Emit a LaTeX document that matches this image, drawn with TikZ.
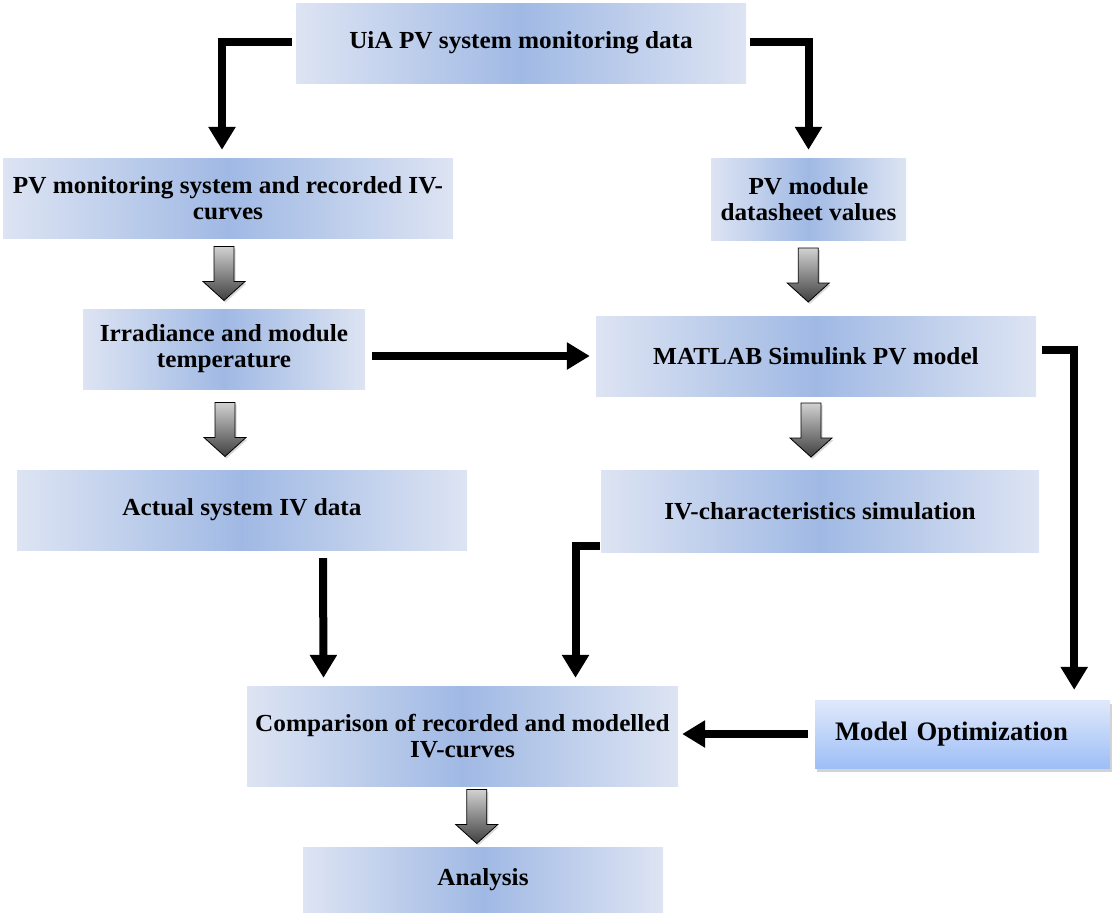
\documentclass[tikz,border=0pt]{standalone}
\usepackage{fontspec}
\setmainfont{Liberation Serif}[FakeStretch=1.03]
\newfontfamily\optfont{Liberation Serif}
\usetikzlibrary{arrows.meta,shadows,calc}
\definecolor{boxedge}{RGB}{221,228,243}
\definecolor{boxmid}{RGB}{160,185,228}
\definecolor{opttop}{RGB}{224,233,251}
\definecolor{optbot}{RGB}{158,190,246}
\tikzset{
  box/.style={rectangle, inner sep=0pt, left color=boxedge, right color=boxedge,
    middle color=boxmid, font=\fontsize{24.5}{26}\selectfont\bfseries, align=center, text=black},
  optbox/.style={rectangle, inner xsep=20pt, inner ysep=0pt, top color=opttop, bottom color=optbot,
    drop shadow={shadow xshift=2pt, shadow yshift=-4pt, opacity=0.35},
    font=\optfont\fontsize{26.7}{30}\selectfont\bfseries, align=left, text width=255pt, minimum height=68pt},
  flow/.style={line width=8pt, -{Triangle[length=23pt,width=26pt]}},
  blockarrow/.pic={
    \path[draw=black, line width=0.8pt, top color=black!18, bottom color=black!75,
      drop shadow={shadow xshift=1.5pt, shadow yshift=-2pt, opacity=0.3}]
      (-10,-27) -- (10,-27) -- (10,8) -- (21,8) -- (0,27) -- (-21,8) -- (-10,8) -- cycle;
  }
}
\begin{document}
\begin{tikzpicture}[x=1pt,y=-1pt]
\path[use as bounding box] (0,0) rectangle (1112,914);

\node[box, minimum width=450pt, minimum height=80pt] (top) at (521,43) {UiA PV system monitoring data};
\node[box, minimum width=450pt, minimum height=80pt] (pvmon) at (228,198) {PV monitoring system and recorded IV-\\curves};
\node[box, minimum width=195pt, minimum height=82pt] (data) at (808.5,199) {PV module\\datasheet values};
\node[box, minimum width=282pt, minimum height=80pt] (irr) at (224,349) {Irradiance and module\\temperature};
\node[box, minimum width=440pt, minimum height=80pt] (matlab) at (816,356) {MATLAB Simulink PV model};
\node[box, minimum width=450pt, minimum height=80pt] (actual) at (242,510) {Actual system IV data};
\node[box, minimum width=438pt, minimum height=82pt] (ivsim) at (820,511) {IV-characteristics simulation};
\node[box, minimum width=431pt, minimum height=100pt] (comp) at (462.5,736) {Comparison of recorded and modelled\\IV-curves};
\node[optbox] (opt) at (962.5,734) {Model Optimization};
\node[box, minimum width=360pt, minimum height=65pt] (ana) at (483,879.5) {Analysis};

% black connectors
\draw[flow] ([xshift=-4pt,yshift=1pt]top.west) -| ([xshift=-6pt,yshift=8pt]pvmon.north);
\draw[flow] ([xshift=4pt,yshift=1pt]top.east) -| ([yshift=8pt]data.north);
\draw[flow] ([xshift=7pt]irr.east |- matlab.west) -- ([xshift=-6pt]matlab.west);
\draw[flow] ([xshift=6pt,yshift=6pt]matlab.east) -| ([xshift=-36pt,yshift=10pt]opt.north east);
\draw[flow] ([xshift=81pt,yshift=-8pt]actual.south) -- ([xshift=-139pt,yshift=8pt]comp.north);
\draw[flow] ([xshift=-1pt,yshift=-35pt]ivsim.west) -| ([xshift=113pt,yshift=8pt]comp.north);
\draw[flow] ([xshift=-7pt]opt.west) -- ([xshift=4pt]comp.east |- opt.west);

% block arrows
\path ($(pvmon.south)!.5!(irr.north)$) ++(-2,0) pic {blockarrow};
\path ($(data.south)!.5!(matlab.north)$) ++(-4,-3) pic {blockarrow};
\path ($(irr.south)!.5!(actual.north)$) ++(-8,0) pic {blockarrow};
\path ($(matlab.south)!.5!(ivsim.north)$) ++(-7,-3) pic {blockarrow};
\path ($(comp.south)!.5!(ana.north)$) ++(4,0) pic {blockarrow};
\end{tikzpicture}
\end{document}
